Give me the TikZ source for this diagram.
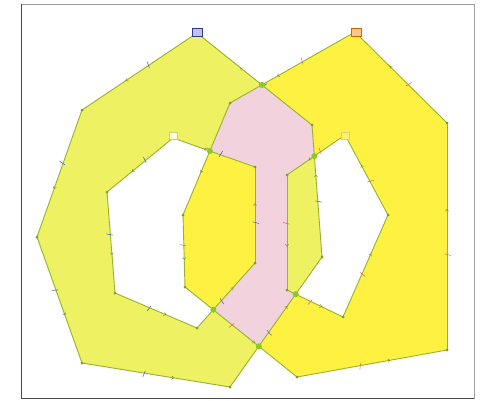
\documentclass[tikz,border=0pt]{standalone}
\usetikzlibrary{decorations.markings}
\definecolor{leftyellow}{RGB}{238,241,98}
\definecolor{rightyellow}{RGB}{255,241,66}
\definecolor{overlappink}{RGB}{242,210,220}
\definecolor{edgegreen}{RGB}{150,180,50}
\definecolor{dotgreen}{RGB}{140,200,40}
\definecolor{tickblue}{RGB}{70,80,200}
\definecolor{tickred}{RGB}{225,95,105}
\definecolor{framegray}{RGB}{120,120,120}
\newcommand{\leftring}{(lo1) -- (lo2) -- (lo3) -- (lo4) -- (lo5) -- (lo6) -- (lo7) -- cycle
  (lh1) -- (lh2) -- (lh3) -- (lh4) -- (lh5) -- (lh6) -- cycle}
\newcommand{\rightring}{(ro1) -- (ro2) -- (ro3) -- (ro4) -- (ro5) -- (ro6) -- (ro7) -- cycle
  (rh1) -- (rh2) -- (rh3) -- (rh4) -- (rh5) -- cycle}
\begin{document}
\begin{tikzpicture}[x=0.5mm,y=-0.5mm,
   edge/.style={draw=edgegreen,line width=1.3pt,line join=round},
   ticked/.style={postaction={decorate},decoration={markings,
      mark=at position 0.42 with {\draw[#1,line width=0.7pt] (-0.4mm,-2mm) -- (0.4mm,1.2mm);},
      mark=at position 0.62 with {\draw[edgegreen!75!black,line width=0.6pt] (-1mm,0.8mm) -- (0,0) -- (-1mm,-0.8mm);}}},
   vdot/.style={fill=edgegreen!85!black},
   xdot/.style={fill=dotgreen},
   tag/.style={draw,minimum width=5mm,minimum height=4mm,inner sep=0pt}]
  \useasboundingbox (0,0) rectangle (483,401);
  \fill[white] (0,0) rectangle (483,401);
  \draw[framegray!70,line width=0.6pt] (21,4) rectangle (474,398);
  \draw[framegray!60!black,line width=1.2pt] (21,4) -- (21,398) -- (474,398);
  % left ring
  \coordinate (lo1) at (197,33);  \coordinate (lo2) at (312,125);
  \coordinate (lo3) at (322,257); \coordinate (lo4) at (230,387);
  \coordinate (lo5) at (82,363);  \coordinate (lo6) at (37,237);
  \coordinate (lo7) at (82,110);
  \coordinate (lh1) at (173,138); \coordinate (lh2) at (255,167);
  \coordinate (lh3) at (255,263); \coordinate (lh4) at (197,328);
  \coordinate (lh5) at (115,293); \coordinate (lh6) at (107,192);
  % right ring
  \coordinate (ro1) at (355,32);  \coordinate (ro2) at (447,123);
  \coordinate (ro3) at (447,350); \coordinate (ro4) at (297,377);
  \coordinate (ro5) at (185,287); \coordinate (ro6) at (183,215);
  \coordinate (ro7) at (230,103);
  \coordinate (rh1) at (345,135); \coordinate (rh2) at (388,215);
  \coordinate (rh3) at (343,317); \coordinate (rh4) at (287,290);
  \coordinate (rh5) at (287,175);
  % crossings
  \coordinate (x1) at (intersection of lo1--lo2 and ro1--ro7);
  \coordinate (x2) at (intersection of lh1--lh2 and ro7--ro6);
  \coordinate (x3) at (intersection of lo2--lo3 and rh5--rh1);
  \coordinate (x4) at (intersection of lh3--lh4 and ro5--ro4);
  \coordinate (x5) at (intersection of lo3--lo4 and rh3--rh4);
  \coordinate (x6) at (intersection of lo3--lo4 and ro5--ro4);

  \fill[leftyellow,even odd rule] \leftring;
  \fill[rightyellow,even odd rule] \rightring;
  \begin{scope}[even odd rule]
    \clip \leftring;
    \fill[overlappink] \rightring;
  \end{scope}

  \foreach \a/\b in {lo1/lo7,lo7/lo6,lo6/lo5,lo5/lo4,lo4/lo3,lo3/lo2,lo2/lo1,
                     lh1/lh6,lh6/lh5,lh5/lh4,lh4/lh3,lh3/lh2,lh2/lh1}
    \draw[edge,ticked=tickblue] (\a) -- (\b);
  \foreach \a/\b in {ro1/ro7,ro7/ro6,ro6/ro5,ro5/ro4,ro4/ro3,ro3/ro2,ro2/ro1,
                     rh1/rh5,rh5/rh4,rh4/rh3,rh3/rh2,rh2/rh1}
    \draw[edge,ticked=tickred] (\a) -- (\b);

  \foreach \v in {lo1,lo2,lo3,lo4,lo5,lo6,lo7,lh1,lh2,lh3,lh4,lh5,lh6,
                  ro1,ro2,ro3,ro4,ro5,ro6,ro7,rh1,rh2,rh3,rh4,rh5}
    \fill[vdot] (\v) circle (1.5);
  \foreach \v in {x1,x2,x3,x4,x5,x6}
    \fill[xdot] (\v) circle (3);

  \node[tag,draw=tickblue!70!black,fill=tickblue!35] (tagLO) at (197,32) {};
  \node[tag,draw=orange!80!black,fill=orange!45] (tagRO) at (356,32) {};
  \node[tag,draw=edgegreen!60,fill=white!85!yellow,minimum width=4mm,minimum height=3.5mm] (tagLH) at (173,136) {};
  \node[tag,draw=orange!50,fill=orange!15!yellow!60,minimum width=4mm,minimum height=3.5mm] (tagRH) at (345,136) {};
\end{tikzpicture}
\end{document}
